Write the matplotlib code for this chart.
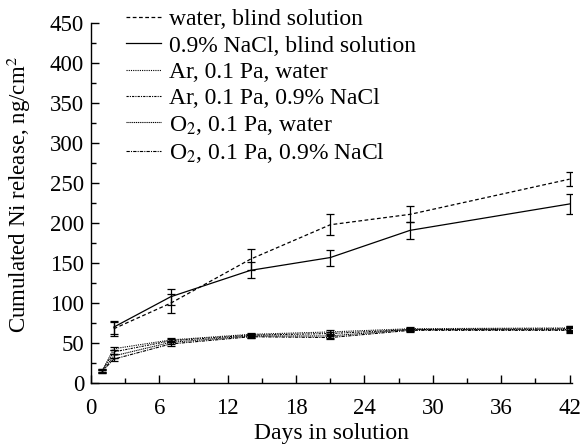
import matplotlib
matplotlib.use("Agg")
import matplotlib.pyplot as plt
from matplotlib.ticker import MultipleLocator

plt.rcParams['font.family'] = ['Liberation Serif', 'DejaVu Serif']
plt.rcParams['mathtext.fontset'] = 'stix'

days_blind = [2, 7, 14, 21, 28, 42]
water_blind = [68, 100, 155, 198, 211, 255]
water_blind_err = [9, 12, 13, 13, 10, 9]
nacl_blind = [70, 108, 141, 157, 191, 224]
nacl_blind_err = [8, 10, 10, 10, 11, 12]

days_low = [1, 2, 7, 14, 21, 28, 42]
ar_water = [16, 43, 54, 61, 64, 68, 69]
ar_water_err = [2, 2, 2, 2, 2, 2, 3]
ar_nacl = [16, 39, 53, 60, 62, 67, 68]
ar_nacl_err = [2, 2, 2, 2, 2, 2, 3]
o2_water = [15, 34, 51, 59, 59, 67, 67]
o2_water_err = [2, 2, 2, 2, 2, 2, 3]
o2_nacl = [15, 30, 49, 58, 57, 66, 66]
o2_nacl_err = [2, 2, 2, 2, 2, 2, 3]

labels = ["water, blind solution", "0.9% NaCl, blind solution",
          "Ar, 0.1 Pa, water", "Ar, 0.1 Pa, 0.9% NaCl",
          "O$_2$, 0.1 Pa, water", "O$_2$, 0.1 Pa, 0.9% NaCl"]

series = [
    (days_blind, water_blind, water_blind_err, (0, (3, 2)), 0.9),
    (days_blind, nacl_blind, nacl_blind_err, '-', 0.9),
    (days_low, ar_water, ar_water_err, (0, (1, 1)), 0.8),
    (days_low, ar_nacl, ar_nacl_err, (0, (2, 1, 1, 1)), 0.8),
    (days_low, o2_water, o2_water_err, (0, (1, 0.7)), 0.8),
    (days_low, o2_nacl, o2_nacl_err, (0, (3, 1, 1, 1)), 0.8),
]

FS = 17
fig = plt.figure(figsize=(5.83, 4.45), dpi=100)
ax = fig.add_axes([0.156, 0.139, 0.825, 0.809])

for (x, y, e, ls, lw), lab in zip(series, labels):
    ax.plot(x, y, color='black', linestyle=ls, lw=lw, label=lab)
    ax.errorbar(x, y, yerr=e, fmt='none', ecolor='black', capsize=3.2,
                elinewidth=0.9, capthick=0.9)

ax.set_xlim(0, 42.2)
ax.set_ylim(0, 450)
ax.xaxis.set_major_locator(MultipleLocator(6))
ax.xaxis.set_minor_locator(MultipleLocator(3))
ax.yaxis.set_major_locator(MultipleLocator(50))
ax.yaxis.set_minor_locator(MultipleLocator(25))
for s in ['top', 'right']:
    ax.spines[s].set_visible(False)
for s in ['left', 'bottom']:
    ax.spines[s].set_linewidth(1.0)
ax.tick_params(which='major', direction='in', length=6, width=1.0, labelsize=16.5)
ax.tick_params(axis='x', which='major', pad=11)
ax.tick_params(axis='y', which='major', pad=5)
ax.tick_params(which='minor', direction='in', length=3.5, width=1.0)
ax.set_xlabel("Days in solution", fontsize=FS, labelpad=0)
ax.xaxis.set_label_coords(0.5, -0.112)
ax.xaxis.label.set_va('top')
ax.set_ylabel("Cumulated Ni release, ng/cm$^2$", fontsize=16.5)
ax.yaxis.set_label_coords(-0.12, 0.525)

leg = ax.legend(loc='upper left', bbox_to_anchor=(0.072, 1.04), frameon=False, fontsize=FS,
                handlelength=1.5, handletextpad=0.35, labelspacing=0.2, borderaxespad=0,
                borderpad=0)

fig.savefig("out.png", dpi=100)
